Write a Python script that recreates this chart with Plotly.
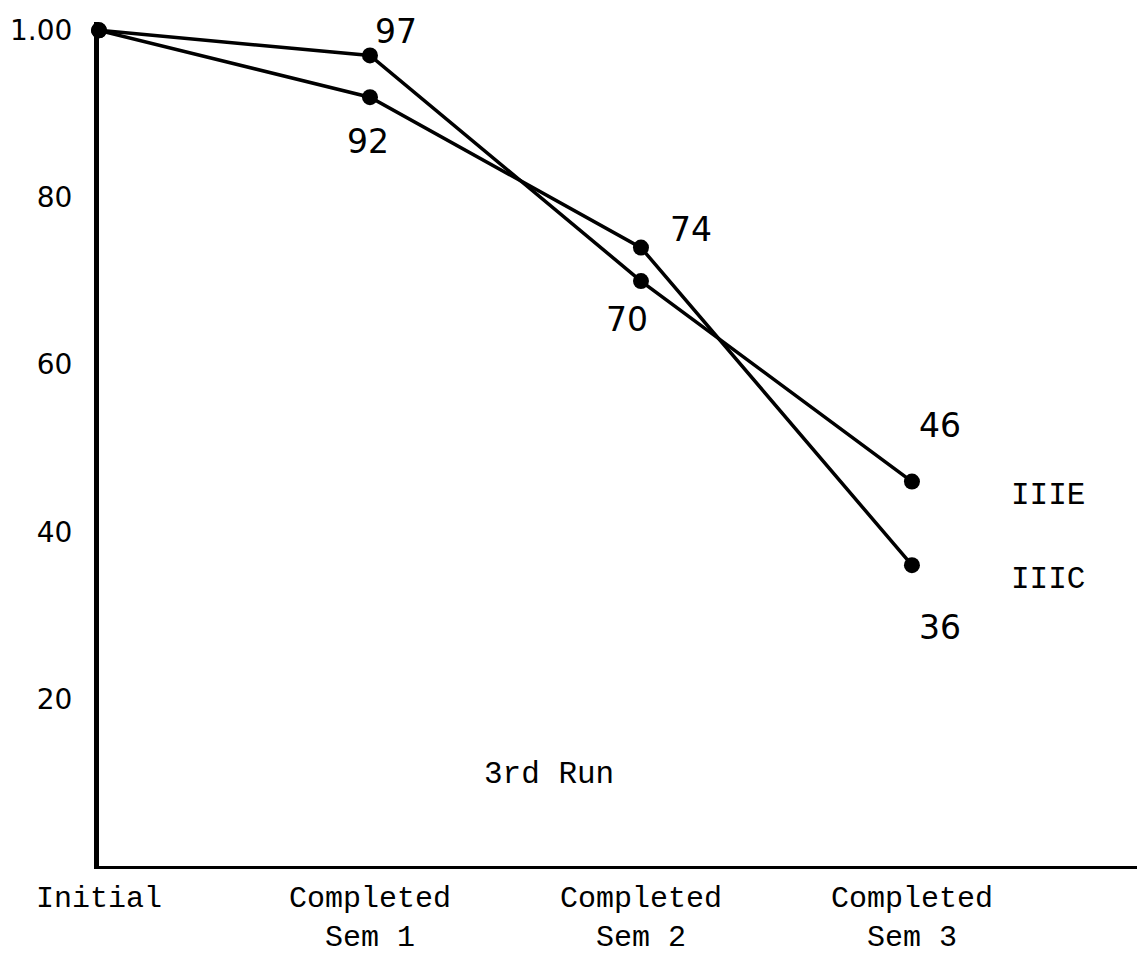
import plotly.graph_objects as go

# **** Data
stages = ["Initial", "Completed<br>Sem 1", "Completed<br>Sem 2", "Completed<br>Sem 3"]
series_names = ["IIIE", "IIIC"]
iiie_values = [100, 97, 70, 46]
iiic_values = [100, 92, 74, 36]
y_tick_vals = [20, 40, 60, 80, 100]
y_tick_text = ["20", "40", "60", "80", "1.00"]
chart_note = "3rd Run"

# **** Styling
hand_font = "DejaVu Sans"
type_font = "Liberation Mono"
# offsets (px) of the hand-written value labels, per point (skip the first point)
label_shifts = {
    "IIIE": [None, (26, 24), (-14, -38), (28, 56)],
    "IIIC": [None, (-2, -44), (50, 18), (28, -62)],
}

# page body has an 8px margin, so the figure is 8px smaller than the window
fig = go.Figure()
fig.update_layout(
    template="plotly_white",
    width=1137,
    height=955,
    margin=dict(l=91, r=0, t=14, b=97),
    showlegend=False,
    paper_bgcolor="white",
    plot_bgcolor="white",
)

for name, values in zip(series_names, [iiie_values, iiic_values]):
    fig.add_trace(
        go.Scatter(
            x=stages,
            y=values,
            mode="lines+markers",
            line=dict(color="black", width=3.5),
            marker=dict(color="black", size=16),
            cliponaxis=False,
            name=name,
        )
    )

    # value labels next to the points
    for i, (stage, val) in enumerate(zip(stages, values)):
        shift = label_shifts[name][i]
        if shift is None:
            continue
        fig.add_annotation(
            x=stage, y=val, text=str(val), showarrow=False,
            xshift=shift[0], yshift=shift[1],
            font=dict(family=hand_font, size=33, color="black"),
        )

    # series name at the end of each line
    fig.add_annotation(
        x=stages[-1], y=values[-1], text=name, showarrow=False,
        xshift=136, yshift=-14, xanchor="center",
        font=dict(family=type_font, size=31, color="black"),
    )

fig.add_annotation(
    x=0.43, y=0.108, xref="paper", yref="paper", text=chart_note, showarrow=False,
    xanchor="center", yanchor="middle",
    font=dict(family=type_font, size=31, color="black"),
)

fig.update_xaxes(
    type="category",
    categoryarray=stages,
    range=[0, 3.86],
    automargin=False,
    showgrid=False,
    zeroline=False,
    showline=True,
    linecolor="black",
    linewidth=3,
    ticks="",
    tickfont=dict(family=type_font, size=30, color="black"),
    ticklabelstandoff=2,
)
fig.update_yaxes(
    range=[0, 101],
    tickvals=y_tick_vals,
    ticktext=y_tick_text,
    automargin=False,
    showgrid=False,
    zeroline=False,
    showline=True,
    linecolor="black",
    linewidth=5,
    ticks="",
    tickfont=dict(family=hand_font, size=28, color="black"),
    ticklabelstandoff=16,
)

fig.write_html("out.html")
